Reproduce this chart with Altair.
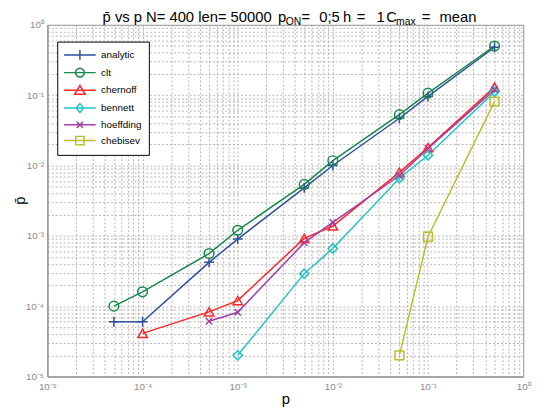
import altair as alt
import pandas as pd

# ---- data ----
p_values = [5e-5, 1e-4, 5e-4, 1e-3, 5e-3, 1e-2, 5e-2, 1e-1, 5e-1]
series_names = ["analytic", "clt", "chernoff", "bennett", "hoeffding", "chebisev"]
analytic = [6.0e-5, 6.0e-5, 4.2e-4, 9.0e-4, 4.8e-3, 1.0e-2, 4.7e-2, 9.6e-2, 4.8e-1]
clt = [1.0e-4, 1.6e-4, 5.6e-4, 1.2e-3, 5.4e-3, 1.17e-2, 5.3e-2, 1.07e-1, 5.0e-1]
chernoff = [4.1e-5, 8.3e-5, 1.2e-4, 9.2e-4, 1.38e-3, 8.0e-3, 1.8e-2, 1.3e-1]
bennett = [2.0e-5, 2.9e-4, 6.6e-4, 6.6e-3, 1.4e-2, 1.12e-1]
hoeffding = [6.1e-5, 8.2e-5, 8.0e-4, 1.55e-3, 7.2e-3, 1.75e-2, 1.2e-1]
chebisev = [2.0e-5, 9.7e-4, 8.1e-2]
series_values = [analytic, clt, chernoff, bennett, hoeffding, chebisev]

colors = ["#2f4f9f", "#16884a", "#ff2626", "#1fc3c3", "#a23fa6", "#bdbd2e"]
marker_paths = [
    "M-1,0H1M0,-1V1",
    "circle",
    "triangle-up",
    "diamond",
    "M-0.7,-0.7L0.7,0.7M-0.7,0.7L0.7,-0.7",
    "square",
]
marker_sizes = [100, 81, 130, 64, 64, 64]
legend_paths = [
    "M-3,0H3M0,-0.94V0.94",
    "M-3,0H3M-0.84,0A0.84,0.84,0,1,0,0.84,0A0.84,0.84,0,1,0,-0.84,0",
    "M-3,0H3M0,-0.95L1,0.75L-1,0.75Z",
    "M-3,0H3M0,-0.85L0.7,0L0,0.85L-0.7,0Z",
    "M-3,0H3M-0.6,-0.6L0.6,0.6M-0.6,0.6L0.6,-0.6",
    "M-3,0H3M-0.8,-0.8H0.8V0.8H-0.8Z",
]

rows = []
for name, vals in zip(series_names, series_values):
    start = len(p_values) - len(vals)
    for i, v in enumerate(vals):
        rows.append({"series": name, "p": p_values[start + i], "pbar": v})
df = pd.DataFrame(rows)

FONT = "Liberation Sans"
ticks = [m * 10.0 ** k for k in range(-5, 0) for m in range(1, 10)] + [1.0]
label_expr = (
    "abs(log(datum.value)/LN10 - round(log(datum.value)/LN10)) < 0.001 ? "
    "('10' + (round(log(datum.value)/LN10) == 0 ? '\u2070' : "
    "'\u207b' + ['', '\u00b9', '\u00b2', '\u00b3', '\u2074', '\u2075'][-round(log(datum.value)/LN10)])) : ''"
)

common_axis = dict(
    values=ticks, grid=True, gridColor="#b4b4b4", gridDash=[2, 2], gridWidth=1,
    ticks=False, domainColor="#8a8a8a", labelExpr=label_expr, labelFont=FONT,
    labelFontSize=10, labelColor="#8a8a8a", labelFlush=False, labelOverlap=False,
    titleFont=FONT, titleFontSize=15, titleFontWeight="normal", titleColor="black",
)
x_enc = alt.X(
    "p:Q", scale=alt.Scale(type="log", domain=[1e-5, 1], nice=False),
    axis=alt.Axis(title="p", labelPadding=5, titleY=27, titleBaseline="alphabetic", **common_axis),
)
y_enc = alt.Y(
    "pbar:Q", scale=alt.Scale(type="log", domain=[1e-5, 1], nice=False),
    axis=alt.Axis(title="p\u0304", labelPadding=4, titleX=-28, titleY=178,
                  titleAngle=270, titleBaseline="middle", titleAlign="center", **common_axis),
)

base = alt.Chart(df).encode(x=x_enc, y=y_enc)

lines = base.mark_line(strokeWidth=1.5).encode(
    color=alt.Color("series:N", scale=alt.Scale(domain=series_names, range=colors), legend=None),
    detail="series:N",
    order="p:Q",
)
points = base.mark_point(filled=False, strokeWidth=1.5, opacity=1).encode(
    color=alt.Color("series:N", scale=alt.Scale(domain=series_names, range=colors), legend=None),
    shape=alt.Shape("series:N", scale=alt.Scale(domain=series_names, range=marker_paths), legend=None),
    size=alt.Size("series:N", scale=alt.Scale(domain=series_names, range=marker_sizes), legend=None),
)
leg = alt.Legend(
    title=None, orient="none", legendX=10, legendY=17, symbolSize=114,
    symbolStrokeWidth=1.5, symbolOffset=9.5, labelOffset=15, labelFont=FONT,
    labelFontSize=10, labelColor="black", padding=7, rowPadding=2,
    strokeColor="black", fillColor="white",
)
legend_layer = base.mark_point(filled=False, strokeWidth=1.5).encode(
    color=alt.Color("series:N", scale=alt.Scale(domain=series_names, range=colors), legend=leg),
    shape=alt.Shape("series:N", scale=alt.Scale(domain=series_names, range=legend_paths), legend=leg),
    opacity=alt.value(0),
)

# title pieces: (text, page x, font size, baseline page y)
title_pieces = [
    ("p\u0304 vs p N= 400 len= 50000", 104, 15, 19),
    ("p", 282, 15, 19),
    ("ON", 290, 10.5, 22),
    ("=", 306, 15, 19),
    ("0;5", 324, 15, 19),
    ("h", 348, 15, 19),
    ("=", 362, 15, 19),
    ("1", 382, 15, 19),
    ("C", 392, 15, 19),
    ("max", 402, 10.5, 22),
    ("=", 428, 15, 19),
    ("mean", 446, 15, 19),
]
PLOT_X0, PLOT_Y0 = 48, 22
title_layers = [
    alt.Chart(pd.DataFrame({"t": [t]})).mark_text(
        align="left", baseline="alphabetic", font=FONT, fontSize=fs, color="black"
    ).encode(text="t:N", x=alt.value(px - PLOT_X0), y=alt.value(py - PLOT_Y0))
    for t, px, fs, py in title_pieces
]

chart = alt.layer(lines, points, legend_layer, *title_layers).resolve_scale(
    color="independent", shape="independent", size="independent"
).properties(
    width=483, height=357,
    autosize=alt.AutoSizeParams(type="none"),
    padding={"left": 40, "top": 14, "right": 11, "bottom": 37},
    background="white",
).configure_view(stroke="#8a8a8a", strokeWidth=1)

chart.save("out.html", embed_options={"renderer": "svg", "actions": False})
